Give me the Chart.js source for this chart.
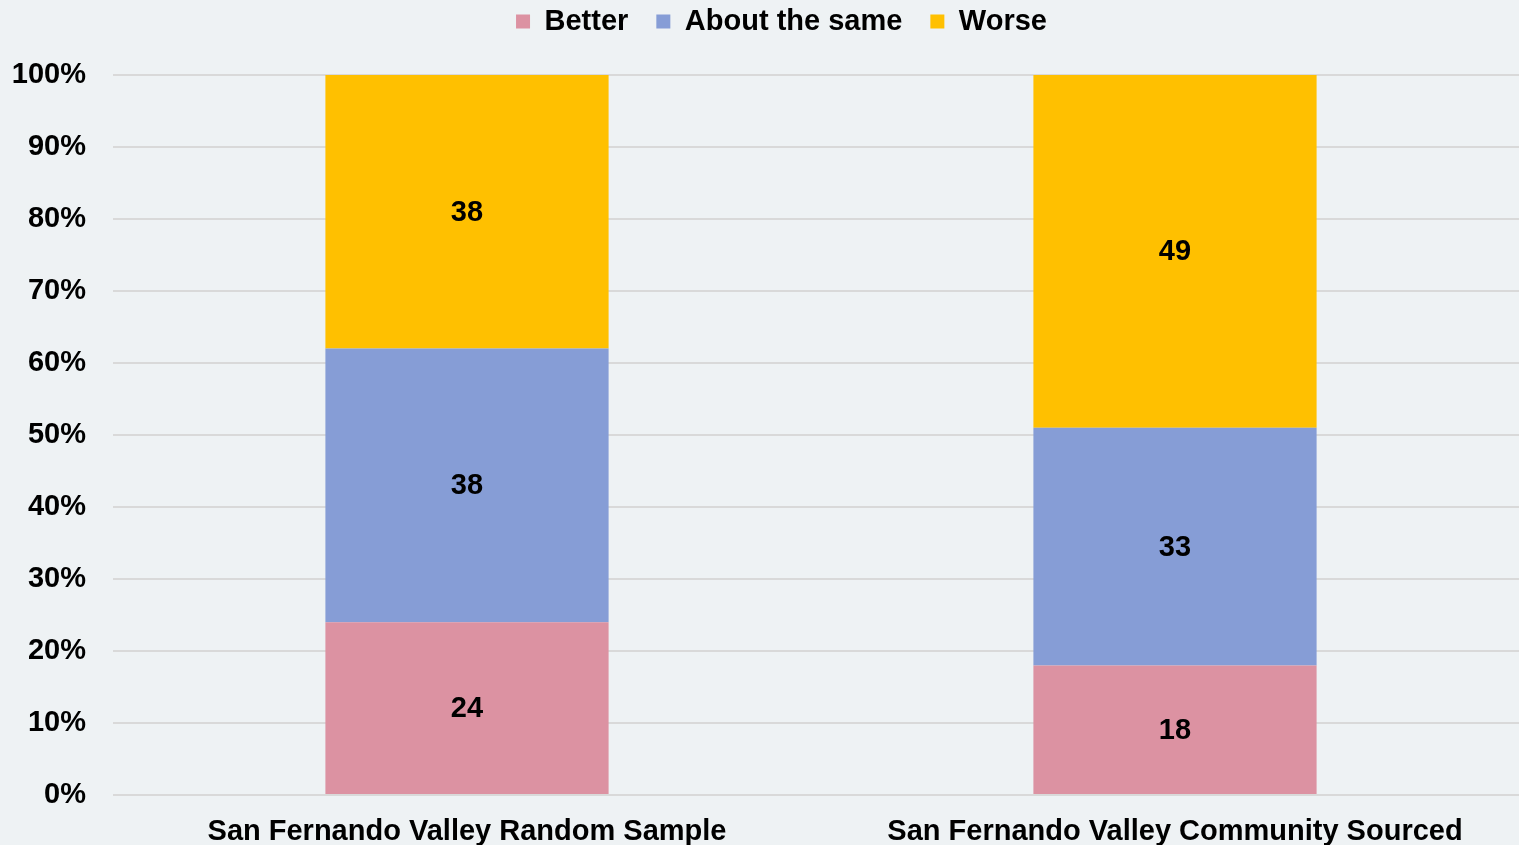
<!DOCTYPE html>
<html>
<head>
<meta charset="utf-8">
<script src="https://cdn.jsdelivr.net/npm/chart.js@4.4.0/dist/chart.umd.min.js"></script>
<style>
  html, body { margin: 0; padding: 0; background: #EEF2F4; overflow: hidden; }
  #wrap { width: 1519px; height: 845px; }
</style>
</head>
<body>
<div id="wrap"><canvas id="c" width="1519" height="845"></canvas></div>
<script>
const categories = ["San Fernando Valley Random Sample", "San Fernando Valley Community Sourced"];
const seriesNames = ["Better", "About the same", "Worse"];
const better = [24, 18];
const aboutSame = [38, 33];
const worse = [38, 49];
const yTicks = [0, 10, 20, 30, 40, 50, 60, 70, 80, 90, 100];

const colors = ["#DC92A2", "#869DD6", "#FFC000"];
const FONT = "'Liberation Sans', Arial, sans-serif";
const FS = 29;

const bgPlugin = {
  id: 'bg',
  beforeDraw(chart) {
    const ctx = chart.ctx;
    ctx.save();
    ctx.fillStyle = '#EEF2F4';
    ctx.fillRect(0, 0, chart.width, chart.height);
    ctx.restore();
  }
};

const labelPlugin = {
  id: 'segLabels',
  afterDatasetsDraw(chart) {
    const ctx = chart.ctx;
    ctx.save();
    ctx.font = "bold " + FS + "px " + FONT;
    ctx.fillStyle = '#000';
    ctx.textAlign = 'center';
    ctx.textBaseline = 'middle';
    chart.data.datasets.forEach((ds, di) => {
      const meta = chart.getDatasetMeta(di);
      meta.data.forEach((bar, i) => {
        const v = ds.data[i];
        ctx.fillText(String(v), bar.x, (bar.y + bar.base) / 2 + 1);
      });
    });
    ctx.restore();
  }
};

const layoutPlugin = {
  id: 'layoutTweak',
  beforeInit(chart) {
    const orig = chart.legend.fit;
    chart.legend.fit = function () {
      orig.bind(chart.legend)();
      this.height = 96;
    };
  },
  afterLayout(chart) {
    chart.legend.left += 22;
    chart.legend.right += 22;
    const x = chart.scales.x;
    x.right += 10;
    x.width += 10;
    x.configure();
  }
};

new Chart(document.getElementById('c'), {
  type: 'bar',
  data: {
    labels: categories,
    datasets: [
      { label: seriesNames[0], data: better, backgroundColor: colors[0] },
      { label: seriesNames[1], data: aboutSame, backgroundColor: colors[1] },
      { label: seriesNames[2], data: worse, backgroundColor: colors[2] }
    ]
  },
  options: {
    responsive: false,
    animation: false,
    devicePixelRatio: 1,
    layout: { padding: { top: -21, right: 0, left: 0, bottom: 0 } },
    datasets: { bar: { barPercentage: 0.4, categoryPercentage: 1.0 } },
    plugins: {
      legend: {
        position: 'top',
        labels: {
          boxWidth: 14,
          boxHeight: 14,
          padding: 28,
          color: '#000',
          font: { family: FONT, size: FS, weight: 'bold' }
        }
      },
      tooltip: { enabled: false }
    },
    scales: {
      x: {
        stacked: true,
        grid: { display: false },
        border: { display: false },
        ticks: {
          color: '#000',
          padding: 12,
          maxRotation: 0,
          font: { family: FONT, size: FS, weight: 'bold' }
        },
        afterFit(scale) { scale.height = 50; }
      },
      y: {
        stacked: true,
        min: 0,
        max: 100,
        afterBuildTicks(scale) { scale.ticks = yTicks.map(v => ({ value: v })); },
        grid: { color: '#D9D9D9', lineWidth: 2, drawTicks: false },
        border: { display: false },
        ticks: {
          color: '#000',
          padding: 27,
          font: { family: FONT, size: FS, weight: 'bold' },
          callback: (v) => v + '%'
        },
        afterFit(scale) { scale.width = 113; }
      }
    }
  },
  plugins: [bgPlugin, labelPlugin, layoutPlugin]
});
</script>
</body>
</html>
